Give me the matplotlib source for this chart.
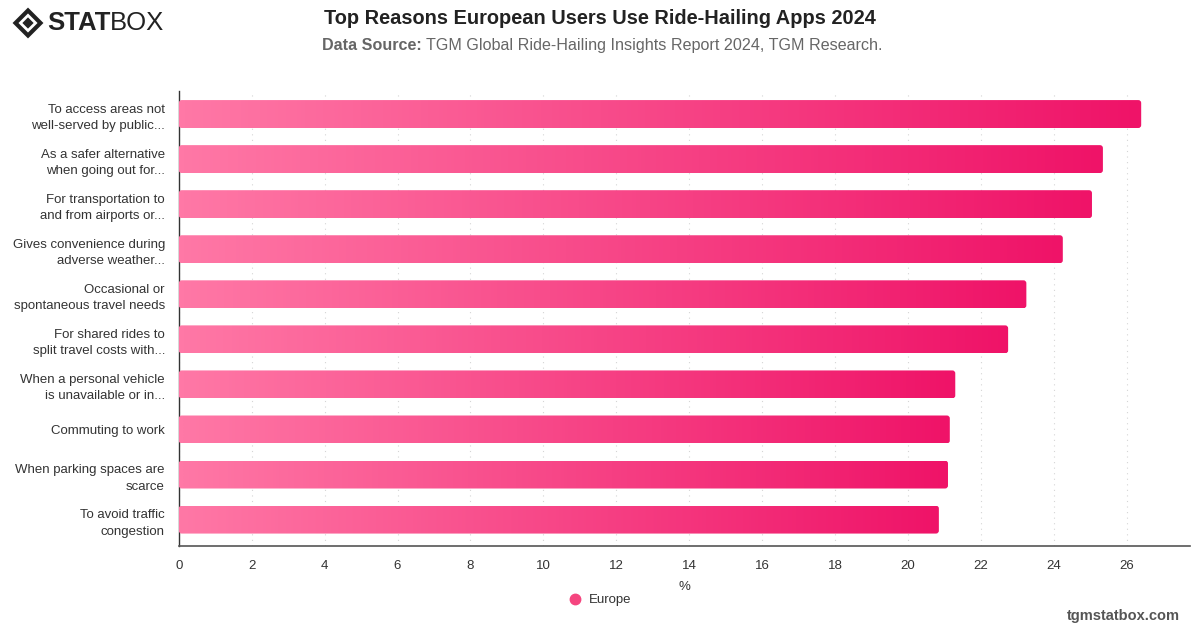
import numpy as np
import matplotlib
matplotlib.use("Agg")
import matplotlib.pyplot as plt
from matplotlib.patches import FancyBboxPatch, Polygon
from matplotlib.lines import Line2D
from matplotlib.colors import LinearSegmentedColormap

plt.rcParams['font.family'] = ['Liberation Sans', 'DejaVu Sans']

reasons = [
    "To access areas not\nwell-served by public...",
    "As a safer alternative\nwhen going out for...",
    "For transportation to\nand from airports or...",
    "Gives convenience during\nadverse weather...",
    "Occasional or\nspontaneous travel needs",
    "For shared rides to\nsplit travel costs with...",
    "When a personal vehicle\nis unavailable or in...",
    "Commuting to work",
    "When parking spaces are\nscarce",
    "To avoid traffic\ncongestion",
]
europe = [26.4, 25.35, 25.05, 24.25, 23.25, 22.75, 21.3, 21.15, 21.1, 20.85]
xticks = list(range(0, 27, 2))

fig = plt.figure(figsize=(12, 6.28), dpi=100)
ax = fig.add_axes([0.149, 0.131, 0.843, 0.724])

cmap = LinearSegmentedColormap.from_list("pink", ["#ff78a6", "#ef1368"])
grad = np.linspace(0, 1, 256).reshape(1, -1)
h = 0.62
for i, v in enumerate(europe):
    box = FancyBboxPatch((0, i - h / 2), v, h,
                         boxstyle="round,pad=0,rounding_size=0.08",
                         mutation_aspect=0.8, facecolor="none",
                         edgecolor="none", zorder=3)
    ax.add_patch(box)
    im = ax.imshow(grad, cmap=cmap, aspect="auto",
                   extent=[0, v, i + h / 2, i - h / 2], zorder=3,
                   interpolation="bilinear")
    im.set_clip_path(box)

ax.set_xlim(0, 27.75)
ax.set_ylim(9.58, -0.51)
ax.set_yticks(range(len(reasons)))
ax.set_yticklabels(reasons, fontsize=9.5, color="#333333", linespacing=1.5)
ax.set_xticks(xticks)
ax.set_xticklabels([str(t) for t in xticks], fontsize=9.5, color="#333333")
ax.tick_params(axis="y", length=0, pad=10)
ax.tick_params(axis="x", length=0, pad=10)
ax.grid(axis="x", linestyle=(0, (1, 4)), color="#d5d5d5", linewidth=0.8, zorder=0)
for s in ["top", "right"]:
    ax.spines[s].set_visible(False)
ax.spines["left"].set_color("#333333")
ax.spines["left"].set_linewidth(1)
ax.spines["bottom"].set_color("#555555")
ax.spines["bottom"].set_linewidth(1.2)
ax.set_xlabel("%", fontsize=9.5, color="#333333", labelpad=7)

# title
fig.text(0.5, 0.971, "Top Reasons European Users Use Ride-Hailing Apps 2024",
         ha="center", va="center", fontsize=14.4, fontweight="bold", color="#222222")
t1 = fig.text(0.268, 0.928, "Data Source:", ha="left", va="center",
              fontsize=11.6, fontweight="bold", color="#666666")
fig.canvas.draw()
bb = t1.get_window_extent()
fig.text(bb.x1 / 1200 + 0.004, 0.928,
         "TGM Global Ride-Hailing Insights Report 2024, TGM Research.",
         ha="left", va="center", fontsize=11.6, color="#666666")

# legend
fig.add_artist(Line2D([575 / 1200], [1 - 599 / 628], marker="o", markersize=7.5,
                      color="#f5457f", transform=fig.transFigure))
fig.text(589 / 1200, 1 - 600 / 628, "Europe", ha="left", va="center",
         fontsize=9.5, color="#333333")

fig.text(0.983, 1 - 616 / 628, "tgmstatbox.com", ha="right", va="center",
         fontsize=10.5, fontweight="bold", color="#555555")

# logo
cx, cy = 28 / 1200, 1 - 23 / 628
sx, sy = 12.5 / 1200, 12.5 / 628
outer = Polygon([(cx - sx, cy), (cx, cy + sy), (cx + sx, cy), (cx, cy - sy)],
                closed=True, transform=fig.transFigure, facecolor="none",
                edgecolor="#222222", linewidth=3)
inner = Polygon([(cx - sx * 0.45, cy), (cx, cy + sy * 0.45), (cx + sx * 0.45, cy),
                 (cx, cy - sy * 0.45)], closed=True, transform=fig.transFigure,
                facecolor="#222222", edgecolor="none")
fig.patches.extend([outer, inner])
t2 = fig.text(47 / 1200, cy, "STAT", ha="left", va="center", fontsize=18.5,
              fontweight="heavy", color="#222222")
fig.canvas.draw()
bb2 = t2.get_window_extent()
fig.text(bb2.x1 / 1200, cy, "BOX", ha="left", va="center", fontsize=18.5,
         color="#222222")

fig.savefig("out.png", dpi=100)
